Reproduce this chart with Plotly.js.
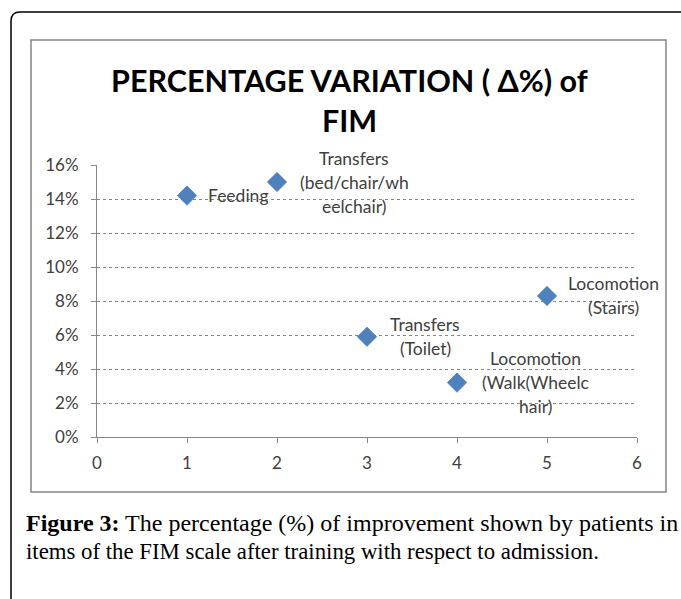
<!DOCTYPE html>
<html><head><meta charset="utf-8">
<script src="https://cdn.plot.ly/plotly-3.0.1.min.js"></script>
<style>html,body{margin:0;padding:0;background:#fff;}#chart{width:681px;height:599px;}</style>
</head><body><div id="chart"></div>
<script>
// Data
var itemIndex = [1, 2, 3, 4, 5];
var deltaPct = [0.142, 0.150, 0.059, 0.032, 0.083];
var itemLabels = [
  ["Feeding"],
  ["Transfers", "(bed/chair/wh", "eelchair)"],
  ["Transfers", "(Toilet)"],
  ["Locomotion", "(Walk(Wheelc", "hair)"],
  ["Locomotion", "(Stairs)"]
];
var yTickVals = [0, 0.02, 0.04, 0.06, 0.08, 0.10, 0.12, 0.14, 0.16];
var yTickText = ["0%", "2%", "4%", "6%", "8%", "10%", "12%", "14%", "16%"];
var xTickVals = [0, 1, 2, 3, 4, 5, 6];
var titleLines = ["PERCENTAGE VARIATION ( \u0394%) of", "FIM"];
var captionBold = "Figure 3:";
var captionLine1 = " The percentage (%) of improvement shown by patients in";
var captionLine2 = "items of the FIM scale after training with respect to admission.";

// layout geometry (pixels)
var W = 681, H = 599;
var L = 97, R = 637, T = 165, B = 437;
function px(x){ return (x - L) / (R - L); }
function py(y){ return (B - y) / (B - T); }

var labelXShift = [51, 77, 58, 78, 66];
var lineGap = 24;
var font = "Lato, 'Open Sans', sans-serif";
var txtColor = "#404040";

var annotations = [];
itemLabels.forEach(function(lines, i){
  var n = lines.length;
  lines.forEach(function(s, j){
    annotations.push({
      x: itemIndex[i], y: deltaPct[i], xref: "x", yref: "y",
      text: s, showarrow: false, xanchor: "center", yanchor: "middle",
      xshift: labelXShift[i], yshift: ((n - 1) / 2 - j) * lineGap,
      font: {family: font, size: 17.5, color: txtColor}
    });
  });
});
titleLines.forEach(function(s, j){
  annotations.push({
    x: px(349), y: py(j === 0 ? 80 : 120), xref: "paper", yref: "paper",
    text: "<b>" + s + "</b>", showarrow: false, xanchor: "center", yanchor: "middle",
    font: {family: font, size: 30.5, color: "#000"}
  });
});
var serif = "'Liberation Serif', 'DejaVu Serif', serif";
annotations.push({
  x: px(24), y: py(523), xref: "paper", yref: "paper", xanchor: "left", yanchor: "middle",
  showarrow: false, align: "left",
  text: "<b>" + captionBold + "</b>" + captionLine1,
  font: {family: serif, size: 24, color: "#000"}
});
annotations.push({
  x: px(24), y: py(551), xref: "paper", yref: "paper", xanchor: "left", yanchor: "middle",
  showarrow: false, align: "left",
  text: captionLine2,
  font: {family: serif, size: 22.8, color: "#000"}
});

var rad = 9;
var outerPath = "M " + px(11) + " " + py(H + 10) + " L " + px(11) + " " + py(12 + rad) +
  " Q " + px(11) + " " + py(12) + " " + px(11 + rad) + " " + py(12) +
  " L " + px(W + 10) + " " + py(12);

var shapes = [
  {type: "path", xref: "paper", yref: "paper", path: outerPath, line: {color: "#000", width: 1.5}},
  {type: "rect", xref: "paper", yref: "paper", x0: px(31), x1: px(666), y0: py(492), y1: py(40),
   line: {color: "#868686", width: 1.5}}
];

var trace = {
  x: itemIndex, y: deltaPct, type: "scatter", mode: "markers",
  marker: {symbol: "diamond", size: 15, color: "#4F81BD", line: {color: "#3F6FA8", width: 0.5}},
  hoverinfo: "skip", cliponaxis: false
};

var layout = {
  width: W, height: H,
  margin: {l: L, r: W - R, t: T, b: H - B, pad: 0},
  paper_bgcolor: "#fff", plot_bgcolor: "#fff",
  showlegend: false,
  xaxis: {
    range: [0, 6], tickvals: xTickVals, ticktext: xTickVals.map(String),
    showgrid: false, zeroline: false, showline: true, linecolor: "#868686", linewidth: 1,
    ticks: "outside", ticklen: 5, tickcolor: "#868686", ticklabelstandoff: 6,
    tickfont: {family: font, size: 17, color: txtColor}, fixedrange: true
  },
  yaxis: {
    range: [0, 0.16], tickvals: yTickVals, ticktext: yTickText,
    showgrid: true, gridcolor: "#868686", gridwidth: 1, griddash: "dot",
    zeroline: false, showline: true, linecolor: "#868686", linewidth: 1,
    ticks: "outside", ticklen: 5, tickcolor: "#868686", ticklabelstandoff: 9,
    tickfont: {family: font, size: 17, color: txtColor}, fixedrange: true
  },
  annotations: annotations,
  shapes: shapes
};

Plotly.newPlot("chart", [trace], layout, {displayModeBar: false, staticPlot: true});
</script>
</body></html>
